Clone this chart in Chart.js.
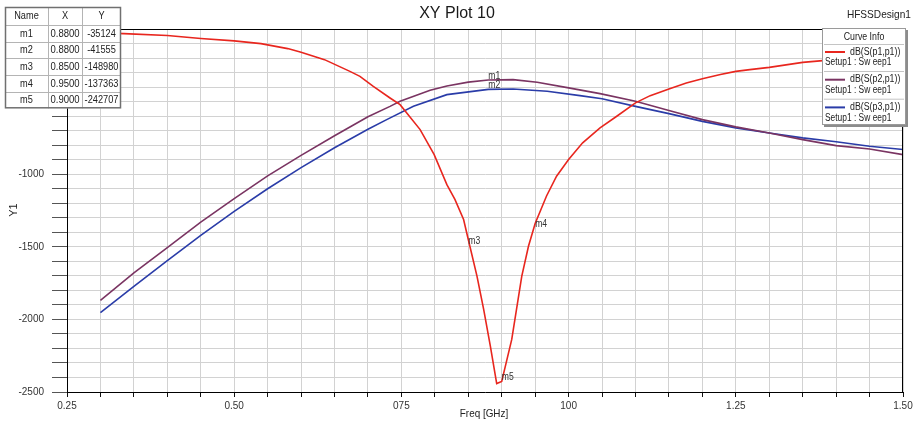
<!DOCTYPE html>
<html>
<head>
<meta charset="utf-8">
<script src="https://cdn.jsdelivr.net/npm/chart.js@4.4.0/dist/chart.umd.min.js"></script>
<style>
html,body{margin:0;padding:0;background:#fff;}
#wrap{width:922px;height:425px;position:relative;}
canvas{display:block;}
</style>
</head>
<body>
<div id="wrap"><canvas id="c" width="922" height="425"></canvas></div>
<script>
// ---------- data ----------
const freqS11 = [0.30,0.335,0.40,0.45,0.50,0.54,0.58,0.60,0.635,0.673,0.688,0.708,0.733,0.748,0.778,0.799,0.818,0.83,0.843,0.85,0.863,0.873,0.883,0.8925,0.90,0.915,0.93,0.94,0.95,0.967,0.982,1.00,1.021,1.047,1.072,1.10,1.122,1.15,1.176,1.20,1.227,1.25,1.271,1.30,1.35,1.38,1.42,1.46,1.50];
const dbS11   = [-28,-32,-45,-65,-82,-101,-135,-160,-211,-292,-326,-395,-475,-521,-693,-865,-1072,-1174,-1312,-1450,-1702,-1931,-2184,-2442,-2427,-2138,-1702,-1496,-1340,-1150,-1014,-899,-784,-681,-601,-509,-459,-413,-372,-342,-314,-292,-280,-264,-230,-218,-200,-188,-178];

const freqS21 = [0.30,0.35,0.40,0.45,0.50,0.55,0.60,0.65,0.70,0.733,0.748,0.793,0.818,0.85,0.88,0.917,0.953,0.998,1.047,1.10,1.15,1.20,1.25,1.30,1.35,1.40,1.45,1.50];
const dbS21   = [-1869,-1680,-1505,-1330,-1168,-1012,-870,-735,-604,-533,-498,-422,-392,-366,-351,-349,-367,-404,-445,-498,-562,-624,-674,-716,-762,-803,-826,-865];

const freqS31 = [0.30,0.35,0.40,0.45,0.50,0.55,0.60,0.65,0.70,0.728,0.768,0.818,0.88,0.917,0.968,1.017,1.05,1.10,1.15,1.20,1.25,1.30,1.35,1.40,1.45,1.50];
const dbS31   = [-1954,-1772,-1596,-1422,-1256,-1100,-955,-818,-690,-624,-532,-452,-416,-413,-429,-459,-480,-533,-583,-636,-681,-716,-750,-777,-808,-830];

const seriesNames  = ['dB(S(p1,p1))','dB(S(p2,p1))','dB(S(p3,p1))'];
const seriesColors = ['#e8261e','#7a3462','#2a3ca8'];
const sweepLabel   = 'Setup1 : Sw eep1';

const markerNames = ['m1','m2','m3','m4','m5'];
const markerX     = [0.8800,0.8800,0.8500,0.9500,0.9000];
const markerY     = [-35124,-41555,-148980,-137363,-242707];

const xTickValues = [0.25,0.50,0.75,1.00,1.25,1.50];
const xTickLabels = ['0.25','0.50','075','100','1.25','1.50'];
const yTickValues = [0,-500,-1000,-1500,-2000,-2500];
const yTickLabels = ['0','-500','-1000','-1500','-2000','-2500'];

const chartTitle = 'XY Plot 10';
const designName = 'HFSSDesign1';
const xTitle = 'Freq [GHz]';
const yTitle = 'Y1';
const legendTitle = 'Curve Info';

// ---------- chart ----------
const REG = '"Liberation Sans",Arial,sans-serif';

function pts(fx, fy){ return fx.map((f,i)=>({x:f,y:fy[i]})); }

function labelFor(vals, labs, v){
  for(let i=0;i<vals.length;i++){ if(Math.abs(vals[i]-v)<1e-6) return labs[i]; }
  return '';
}

// horizontally condensed text (the original uses a narrow face)
function ntext(ctx, s, x, y, k){
  ctx.save(); ctx.translate(x, y); ctx.scale(k, 1); ctx.fillText(s, 0, 0); ctx.restore();
}

const overlay = {
  id:'overlay',
  afterDraw(chart){
    const ctx = chart.ctx, a = chart.chartArea, sx = chart.scales.x, sy = chart.scales.y;
    ctx.save();
    // top & right frame
    ctx.strokeStyle = '#000'; ctx.lineWidth = 1;
    ctx.beginPath();
    ctx.moveTo(Math.round(a.left)+0.5, Math.round(a.top)+0.5);
    ctx.lineTo(Math.round(a.right)-0.5, Math.round(a.top)+0.5);
    ctx.lineTo(Math.round(a.right)-0.5, Math.round(a.bottom));
    ctx.stroke();

    // marker labels
    ctx.fillStyle = '#333';
    ctx.font = '10px ' + REG;
    ctx.textAlign = 'left'; ctx.textBaseline = 'bottom';
    markerNames.forEach((n,i)=>{
      ntext(ctx, n, sx.getPixelForValue(markerX[i]), sy.getPixelForValue(markerY[i]/100)+1, 0.86);
    });

    // legend box
    const lx = 822, ly = 28, lw = 84, lh = 97;
    ctx.fillStyle = '#8c8c8c';
    ctx.fillRect(lx+2, ly+2, lw, lh);
    ctx.fillStyle = '#fff';
    ctx.fillRect(lx, ly, lw, lh);
    ctx.strokeStyle = '#9a9a9a'; ctx.lineWidth = 1;
    ctx.strokeRect(lx+0.5, ly+0.5, lw-1, lh-1);
    ctx.fillStyle = '#222';
    ctx.font = '10px ' + REG;
    ctx.textAlign = 'center'; ctx.textBaseline = 'middle';
    ntext(ctx, legendTitle, lx+lw/2, ly+9, 0.88);
    ctx.strokeStyle = '#c4c4c4';
    ctx.beginPath(); ctx.moveTo(lx+2, ly+16.5); ctx.lineTo(lx+lw-2, ly+16.5); ctx.stroke();
    seriesNames.forEach((n,i)=>{
      const by = ly + 16 + i*27.7;
      ctx.strokeStyle = seriesColors[i]; ctx.lineWidth = 2;
      ctx.beginPath(); ctx.moveTo(lx+3, by+8); ctx.lineTo(lx+23, by+8); ctx.stroke();
      ctx.fillStyle = '#222';
      ctx.textAlign = 'left';
      ntext(ctx, n, lx+28, by+8, 0.88);
      ntext(ctx, sweepLabel, lx+3, by+18.5, 0.84);
      if(i<seriesNames.length-1){
        ctx.strokeStyle = '#c4c4c4'; ctx.lineWidth = 1;
        ctx.beginPath(); ctx.moveTo(lx+2, by+27.5); ctx.lineTo(lx+lw-2, by+27.5); ctx.stroke();
      }
    });

    // marker table
    const cols = [5,48,82,121];
    const rows = [7,25,41.7,58.3,75,91.7,108.3];
    ctx.fillStyle = '#fff';
    ctx.fillRect(cols[0], rows[0], cols[3]-cols[0], rows[6]-rows[0]);
    ctx.strokeStyle = '#b4b4b4'; ctx.lineWidth = 1;
    ctx.beginPath();
    for(let i=1;i<rows.length-1;i++){ ctx.moveTo(cols[0], Math.round(rows[i])+0.5); ctx.lineTo(cols[3], Math.round(rows[i])+0.5); }
    for(let j=1;j<cols.length-1;j++){ ctx.moveTo(cols[j]+0.5, rows[0]); ctx.lineTo(cols[j]+0.5, rows[6]); }
    ctx.stroke();
    ctx.strokeStyle = '#707070'; ctx.lineWidth = 1.5;
    ctx.strokeRect(cols[0]+0.5, rows[0]+0.5, cols[3]-cols[0]-1, rows[6]-rows[0]-1);
    ctx.fillStyle = '#222';
    ctx.font = '10px ' + REG;
    ctx.textAlign = 'center'; ctx.textBaseline = 'middle';
    const hdr = ['Name','X','Y'];
    hdr.forEach((h,j)=>ntext(ctx, h, (cols[j]+cols[j+1])/2, (rows[0]+rows[1])/2+0.5, 0.92));
    markerNames.forEach((n,i)=>{
      const cy = (rows[i+1]+rows[i+2])/2 + 0.5;
      ntext(ctx, n, (cols[0]+cols[1])/2, cy, 0.92);
      ntext(ctx, markerX[i].toFixed(4), (cols[1]+cols[2])/2, cy, 0.95);
      ntext(ctx, String(markerY[i]), (cols[2]+cols[3])/2, cy, 0.92);
    });

    // titles
    ctx.fillStyle = '#1a1a1a';
    ctx.font = '16px ' + REG;
    ctx.textAlign = 'center'; ctx.textBaseline = 'middle';
    ctx.fillText(chartTitle, 457, 14);
    ctx.font = '11px ' + REG;
    ctx.fillStyle = '#222';
    ctx.textAlign = 'right';
    ntext(ctx, designName, 911, 14.5, 0.92);
    ctx.textAlign = 'center';
    ntext(ctx, xTitle, 484, 414, 0.9);
    ctx.save();
    ctx.translate(14, 210);
    ctx.rotate(-Math.PI/2);
    ctx.fillText(yTitle, 0, 0);
    ctx.restore();

    ctx.restore();
  }
};

const datasets = [
  {label:seriesNames[0], data:pts(freqS11,dbS11), borderColor:seriesColors[0]},
  {label:seriesNames[1], data:pts(freqS21,dbS21), borderColor:seriesColors[1]},
  {label:seriesNames[2], data:pts(freqS31,dbS31), borderColor:seriesColors[2]}
].map(d=>Object.assign(d,{showLine:true, pointRadius:0, borderWidth:1.6, tension:0, fill:false}));

new Chart(document.getElementById('c'), {
  type:'scatter',
  data:{datasets},
  options:{
    responsive:false,
    animation:false,
    devicePixelRatio:1,
    layout:{padding:{left:0, top:29, right:19, bottom:0}},
    plugins:{legend:{display:false}, title:{display:false}, tooltip:{enabled:false}},
    scales:{
      x:{
        type:'linear', min:0.25, max:1.5,
        afterFit(s){ s.height = 33; },
        afterBuildTicks(s){
          const t=[]; for(let i=0;i<=25;i++) t.push({value:+(0.25+i*0.05).toFixed(2)});
          s.ticks = t;
        },
        grid:{color:'#d2d2d2', lineWidth:1, tickColor:'#111', tickLength:5, drawTicks:true},
        border:{display:true, color:'#000', width:1},
        ticks:{autoSkip:false, maxRotation:0, padding:3, color:'#333',
          font:{family:REG, size:10},
          callback:(v)=>labelFor(xTickValues, xTickLabels, v)}
      },
      y:{
        type:'linear', min:-2500, max:0,
        afterFit(s){ s.width = 67; },
        afterBuildTicks(s){
          const t=[]; for(let i=0;i<=25;i++) t.push({value:-2500+i*100});
          s.ticks = t;
        },
        grid:{color:'#d2d2d2', lineWidth:1, tickColor:'#555', tickLength:15, drawTicks:true},
        border:{display:true, color:'#000', width:1},
        ticks:{autoSkip:false, padding:8, color:'#333',
          font:{family:REG, size:10},
          callback:(v)=>labelFor(yTickValues, yTickLabels, v)}
      }
    }
  },
  plugins:[overlay]
});
</script>
</body>
</html>
